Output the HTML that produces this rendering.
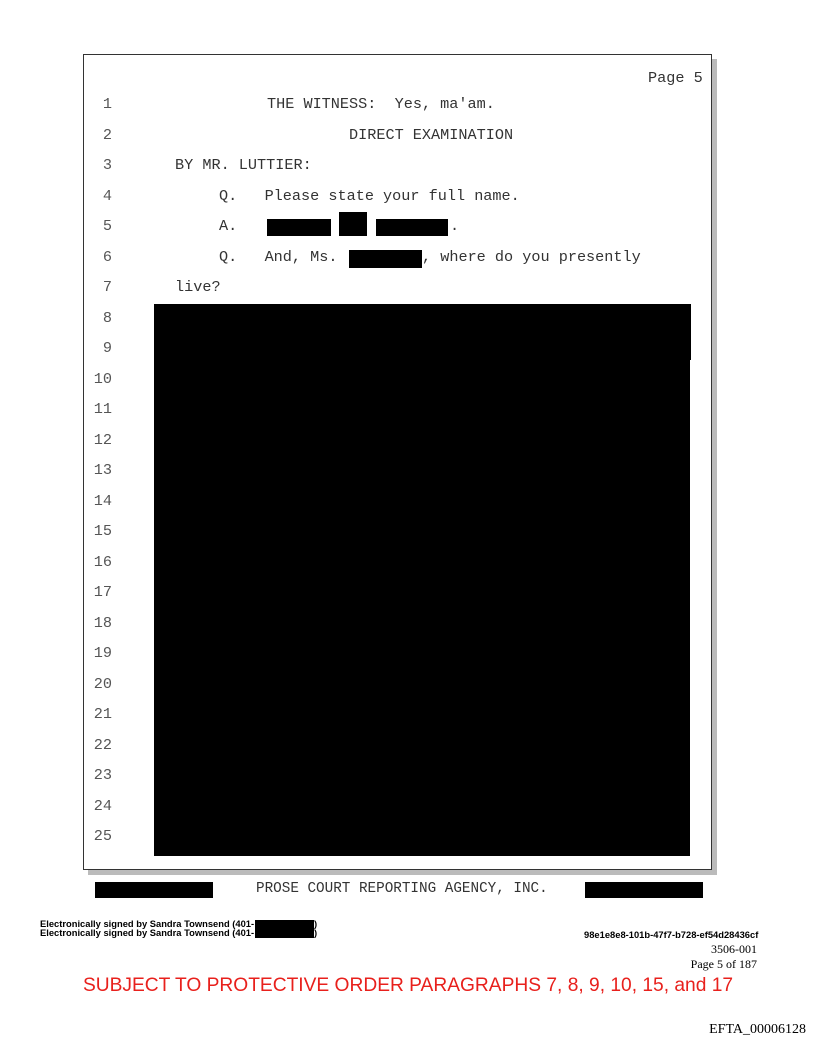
<!DOCTYPE html>
<html><head><style>
body{margin:0;width:816px;height:1056px;background:#fff;position:relative;overflow:hidden}
.a{position:absolute;white-space:pre}
.m{font-family:"Liberation Mono",monospace;font-size:15.2px;color:#333;line-height:13px}
.n{font-family:"Liberation Mono",monospace;font-size:15.2px;color:#555;line-height:13px;width:30px;text-align:right;left:82px}
.b{position:absolute;background:#000}
.s{font-family:"Liberation Sans",sans-serif;font-weight:bold;font-size:9px;line-height:9px;transform:scaleX(1.04);transform-origin:left}
</style></head><body>
<div style="position:absolute;left:88px;top:59px;width:629px;height:816px;background:#bbb"></div>
<div style="position:absolute;left:83px;top:54px;width:627px;height:814px;background:#fff;border:1px solid #333"></div>
<div class="a m" style="left:648px;top:72px">Page 5</div>
<div class="a m" style="left:267px;top:98px">THE WITNESS:  Yes, ma'am.</div>
<div class="a m" style="left:349px;top:129px">DIRECT EXAMINATION</div>
<div class="a m" style="left:175px;top:159px">BY MR. LUTTIER:</div>
<div class="a m" style="left:219px;top:190px">Q.   Please state your full name.</div>
<div class="a m" style="left:219px;top:220px">A.</div>
<div class="b" style="left:267px;top:219px;width:64px;height:17px"></div>
<div class="b" style="left:339px;top:212px;width:28px;height:24px"></div>
<div class="b" style="left:376px;top:219px;width:72px;height:17px"></div>
<div class="a m" style="left:450px;top:220px">.</div>
<div class="a m" style="left:219px;top:251px">Q.   And, Ms.</div>
<div class="a m" style="left:422px;top:251px">, where do you presently</div>
<div class="b" style="left:349px;top:250px;width:73px;height:18px"></div>
<div class="a m" style="left:175px;top:281px">live?</div>
<div class="b" style="left:154px;top:304px;width:536px;height:552px"></div>
<div class="b" style="left:688px;top:304px;width:3px;height:56px"></div>
<div class="a n" style="top:98px">1</div><div class="a n" style="top:129px">2</div><div class="a n" style="top:159px">3</div><div class="a n" style="top:190px">4</div><div class="a n" style="top:220px">5</div><div class="a n" style="top:251px">6</div><div class="a n" style="top:281px">7</div><div class="a n" style="top:312px">8</div><div class="a n" style="top:342px">9</div><div class="a n" style="top:373px">10</div><div class="a n" style="top:403px">11</div><div class="a n" style="top:434px">12</div><div class="a n" style="top:464px">13</div><div class="a n" style="top:495px">14</div><div class="a n" style="top:525px">15</div><div class="a n" style="top:556px">16</div><div class="a n" style="top:586px">17</div><div class="a n" style="top:617px">18</div><div class="a n" style="top:647px">19</div><div class="a n" style="top:678px">20</div><div class="a n" style="top:708px">21</div><div class="a n" style="top:739px">22</div><div class="a n" style="top:769px">23</div><div class="a n" style="top:800px">24</div><div class="a n" style="top:830px">25</div>
<div class="b" style="left:95px;top:882px;width:118px;height:16px"></div>
<div class="b" style="left:585px;top:882px;width:118px;height:16px"></div>
<div class="a m" style="left:256px;top:883px;font-size:14.3px">PROSE COURT REPORTING AGENCY, INC.</div>
<div class="a s" style="left:40px;top:920px">Electronically signed by Sandra Townsend (401-<br>Electronically signed by Sandra Townsend (401-</div>
<div class="a s" style="left:314px;top:920px">)<br>)</div>
<div class="b" style="left:255px;top:920px;width:59px;height:18px"></div>
<div class="a s" style="left:584px;top:931px">98e1e8e8-101b-47f7-b728-ef54d28436cf</div>
<div class="a" style="right:59px;top:942px;font-family:'Liberation Serif',serif;font-size:12px;line-height:15px;text-align:right">3506-001<br>Page 5 of 187</div>
<div class="a" style="left:0;width:816px;text-align:center;top:975px;font-family:'Liberation Sans',sans-serif;font-size:19.2px;color:#e8201c">SUBJECT TO PROTECTIVE ORDER PARAGRAPHS 7, 8, 9, 10, 15, and 17</div>
<div class="a" style="right:10px;top:1022px;font-family:'Liberation Serif',serif;font-size:14px">EFTA_00006128</div>
</body></html>
